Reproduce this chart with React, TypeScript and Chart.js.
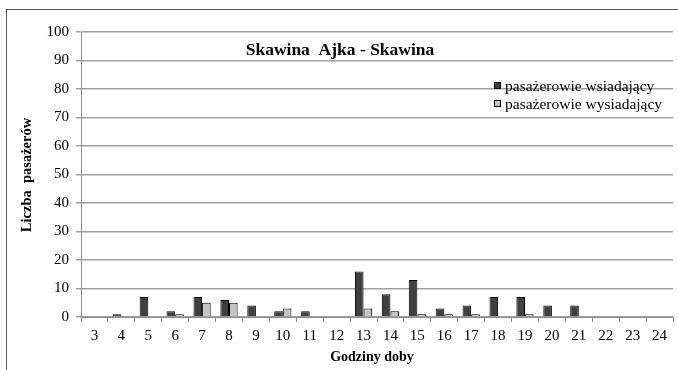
import React, { useEffect, useRef } from "react";
import { Chart, registerables } from "chart.js";

Chart.register(...registerables);

const hours = ["3","4","5","6","7","8","9","10","11","12","13","14","15","16","17","18","19","20","21","22","23","24"];
const boarding = [0,1,7,2,7,6,4,2,2,0,16,8,13,3,4,7,7,4,4,0,0,0];
const alighting = [0,0,0,1,5,5,0,3,0,0,3,2,1,1,1,0,1,0,0,0,0,0];
const seriesNames = ["pasażerowie wsiadający", "pasażerowie wysiadający"];
const chartTitle = "Skawina  Ajka - Skawina";
const xTitle = "Godziny doby";
const yTitle = "Liczba  pasażerów";

const SERIF = "'Liberation Serif', 'Times New Roman', serif";

const overlayPlugin = {
  id: "overlay",
  afterDraw(chart: any) {
    const ctx = chart.ctx;
    ctx.save();
    ctx.fillStyle = "#000";
    // title
    ctx.font = `bold 17.5px ${SERIF}`;
    ctx.textAlign = "center";
    ctx.textBaseline = "middle";
    ctx.fillText(chartTitle, 340, 50);
    // x title
    ctx.font = `bold 14px ${SERIF}`;
    ctx.fillText(xTitle, 372, 357);
    // y title
    ctx.save();
    ctx.translate(27, 175);
    ctx.rotate(-Math.PI / 2);
    ctx.font = `bold 14.5px ${SERIF}`;
    ctx.fillText(yTitle, 0, 0);
    ctx.restore();
    // legend
    ctx.font = `15.5px ${SERIF}`;
    ctx.textAlign = "left";
    const rows = [86, 104];
    chart.data.datasets.forEach((ds: any, i: number) => {
      const y = rows[i];
      ctx.fillStyle = ds.backgroundColor;
      ctx.fillRect(494.5, y - 3.5, 6, 6);
      ctx.strokeStyle = "#000";
      ctx.lineWidth = 1;
      ctx.strokeRect(494.5, y - 3.5, 6, 6);
      ctx.fillStyle = "#000";
      ctx.fillText(ds.label, 505, y + 1);
    });
    ctx.restore();
  },
};

export default function App() {
  const ref = useRef<HTMLCanvasElement>(null);
  useEffect(() => {
    if (!ref.current) return;
    const chart = new Chart(ref.current, {
      type: "bar",
      data: {
        labels: hours,
        datasets: [
          {
            label: seriesNames[0],
            data: boarding,
            backgroundColor: "#404040",
            borderColor: "#000",
            borderWidth: 1,
            categoryPercentage: 0.64,
            barPercentage: 1,
          },
          {
            label: seriesNames[1],
            data: alighting,
            backgroundColor: "#c4c4c4",
            borderColor: "#000",
            borderWidth: 1,
            categoryPercentage: 0.64,
            barPercentage: 1,
          },
        ],
      },
      options: {
        responsive: false,
        animation: false,
        devicePixelRatio: 1,
        layout: { padding: { left: 0, top: 32, right: 5, bottom: 0 } },
        plugins: { legend: { display: false }, title: { display: false }, tooltip: { enabled: false } },
        scales: {
          x: {
            grid: {
              offset: true,
              drawOnChartArea: false,
              drawTicks: true,
              tickLength: 5,
              color: "#8c8c8c",
            },
            border: { display: true, color: "#8c8c8c", width: 1 },
            ticks: { color: "#000", font: { family: SERIF, size: 15 }, padding: 5, maxRotation: 0, autoSkip: false },
            afterFit: (s: any) => { s.height = 53; },
          },
          y: {
            min: 0,
            max: 100,
            ticks: { stepSize: 10, color: "#000", font: { family: SERIF, size: 15 }, padding: 7 },
            grid: { color: "#a0a0a0", lineWidth: 1.5, tickLength: 5, drawTicks: true },
            border: { display: true, color: "#8c8c8c", width: 1 },
            afterFit: (s: any) => { s.width = 81; },
          },
        },
      },
      plugins: [overlayPlugin],
    });
    return () => chart.destroy();
  }, []);
  return (
    <div style={{ position: "fixed", left: 0, top: 0, width: 678, height: 370, background: "#fff" }}>
      <canvas ref={ref} width={678} height={370} style={{ position: "absolute", left: 0, top: 0 }} />
      <div style={{ position: "absolute", left: 6, top: 9, width: 672, height: 361, borderLeft: "1.5px solid #555", borderTop: "1.5px solid #555", pointerEvents: "none" }} />
    </div>
  );
}
